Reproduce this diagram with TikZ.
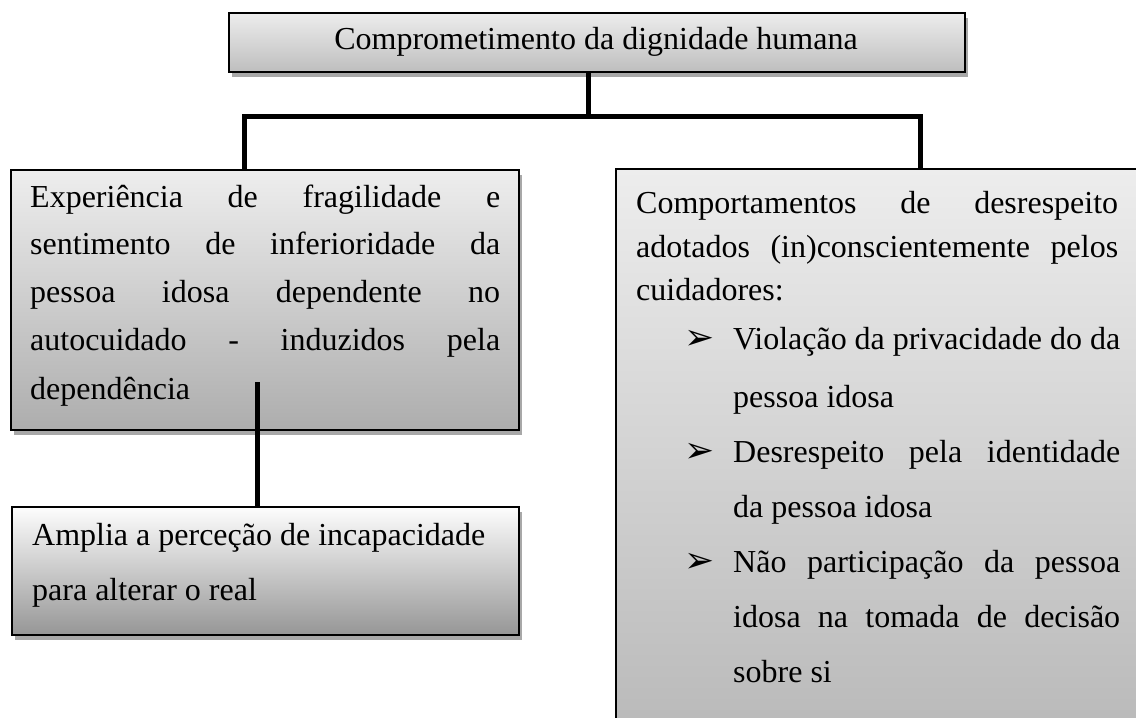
\documentclass[tikz,border=0pt]{standalone}
\usepackage{fontspec}
\setmainfont{Liberation Serif}
\newfontfamily\dejavu{DejaVu Sans}
\usetikzlibrary{shadows}
\definecolor{shd}{HTML}{A8A8A8}
\definecolor{tTop}{HTML}{EDEDED}
\definecolor{tBot}{HTML}{BEBEBE}
\definecolor{lTop}{HTML}{EEEEEE}
\definecolor{lBot}{HTML}{ADADAD}
\definecolor{bTop}{HTML}{FDFDFD}
\definecolor{bBot}{HTML}{969696}
\definecolor{rTop}{HTML}{EDEDED}
\definecolor{rBot}{HTML}{B6B6B6}
\tikzset{
  box/.style={draw=black, line width=2pt, rectangle, inner sep=0pt, anchor=north west,
    general shadow={fill=shd, shadow xshift=3pt, shadow yshift=-5pt}},
  conn/.style={line width=5pt, line join=miter},
  txt/.style={anchor=base west, inner sep=0pt, font=\fontsize{32}{38}\selectfont},
  bul/.style={anchor=base west, inner sep=0pt, font=\dejavu\fontsize{36}{36}\selectfont},
}
\begin{document}
\begin{tikzpicture}[x=1pt,y=-1pt]
\useasboundingbox (0,0) rectangle (1136,718);
\clip (0,0) rectangle (1136,718);
% boxes
\node[box, minimum width=736pt, minimum height=59pt, top color=tTop, bottom color=tBot] (T) at (228,12) {};
\node[box, minimum width=508pt, minimum height=260pt, top color=lTop, bottom color=lBot] (L) at (10,169) {};
\node[box, minimum width=507pt, minimum height=128pt, top color=bTop, bottom color=bBot] (B) at (11,506) {};
\node[box, minimum width=600pt, minimum height=600pt, top color=rTop, bottom color=rBot] (R) at (615,168) {};
% connectors
\coordinate (J) at (588,116);
\coordinate (JL) at (244,116);
\coordinate (JR) at (920,116);
\coordinate (LS) at (257,382);
\draw[conn] (T.south -| J) -- (J);
\draw[conn] (L.north -| JL) -- (JL) -- (JR) -- (R.north -| JR);
\draw[conn] (LS) -- (B.north -| LS);
% top text
\node[inner sep=0pt, anchor=base, font=\fontsize{32}{38}\selectfont] (t1) at (596,49) {Comprometimento da dignidade humana};
% left box text
\node[txt] (l1) at (30,207) {\makebox[470pt][s]{Experiência de fragilidade e}};
\node[txt] (l2) at (30,254) {\makebox[470pt][s]{sentimento de inferioridade da}};
\node[txt] (l3) at (30,302) {\makebox[470pt][s]{pessoa idosa dependente no}};
\node[txt] (l4) at (30,350) {\makebox[470pt][s]{autocuidado - induzidos pela}};
\node[txt] (l5) at (30,399) {dependência};
% bottom box text
\node[txt] (b1) at (32,545) {Amplia a perceção de incapacidade};
\node[txt] (b2) at (32,600) {para alterar o real};
% right box text
\node[txt] (r1) at (636,213) {\makebox[482pt][s]{Comportamentos de desrespeito}};
\node[txt] (r2) at (636,257) {\makebox[482pt][s]{adotados (in)conscientemente pelos}};
\node[txt] (r3) at (636,300) {cuidadores:};
\node[bul] (u1) at (684,349) {➢};
\node[txt] (r4) at (733,349) {\makebox[387pt][s]{Violação da privacidade do da}};
\node[txt] (r5) at (733,407) {pessoa idosa};
\node[bul] (u2) at (684,462) {➢};
\node[txt] (r6) at (733,462) {\makebox[387pt][s]{Desrespeito pela identidade}};
\node[txt] (r7) at (733,517) {da pessoa idosa};
\node[bul] (u3) at (684,572) {➢};
\node[txt] (r8) at (733,572) {\makebox[387pt][s]{Não participação da pessoa}};
\node[txt] (r9) at (733,627) {\makebox[387pt][s]{idosa na tomada de decisão}};
\node[txt] (r10) at (733,682) {sobre si};
\end{tikzpicture}
\end{document}
